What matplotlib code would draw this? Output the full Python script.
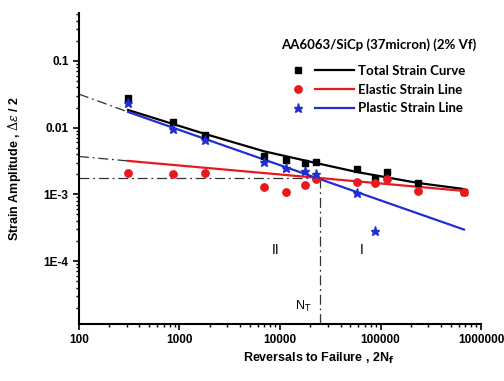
import matplotlib
matplotlib.use("Agg")
import matplotlib.pyplot as plt
from matplotlib.lines import Line2D
from matplotlib.legend_handler import HandlerTuple
from matplotlib.ticker import LogLocator, NullFormatter, FixedLocator, FixedFormatter

# measured points: reversals to failure vs strain amplitude
reversals = [308, 861, 1795, 6935, 11480, 17740, 22800, 58300, 88100, 116000, 236000, 677000]
total_strain = [0.0279, 0.0122, 0.0078, 0.00377, 0.00328, 0.00296, 0.00306,
                0.0024, 0.0017, 0.00217, 0.00148, 0.00109]
elastic_strain = [0.00209, 0.00202, 0.00209, 0.00129, 0.00109, 0.00138, 0.0017,
                  0.00153, 0.00148, 0.0017, 0.00112, 0.00109]
plastic_rev = [308, 861, 1795, 6935, 11480, 17740, 22800, 58300, 88100]
plastic_strain = [0.0234, 0.00957, 0.00655, 0.00306, 0.00249, 0.00224, 0.00202,
                  0.00105, 0.000282]

# fitted lines (end points) and their back extensions to 2Nf = 100
fit_rev = [308, 677000]
elastic_fit = [0.00317, 0.001125]
plastic_fit = [0.01718, 0.000296]
ext_rev = [100, 308]
elastic_ext = [0.00369, 0.00317]
plastic_ext = [0.0318, 0.01718]

# total strain curve
total_rev = [308, 1795, 6935, 22800, 58300, 236000, 677000]
total_fit = [0.0184, 0.00804, 0.00442, 0.00295, 0.00216, 0.00148, 0.00120]

# transition life
n_t = 25000
eps_t = 0.00176

x_ticks = [100, 1000, 10000, 100000, 1000000]
x_labels = ["100", "1000", "10000", "100000", "1000000"]
y_ticks = [1e-4, 1e-3, 1e-2, 1e-1]
y_labels = ["1E-4", "1E-3", "0.01", "0.1"]

red = "#e8191e"
blue = "#1f2fd2"

fig = plt.figure(figsize=(5.04, 3.81), dpi=100)
ax = fig.add_axes([0.1567, 0.1496, 0.7977, 0.8163])
ax.set_xscale("log")
ax.set_yscale("log")
ax.set_xlim(100, 1e6)
ax.set_ylim(1.136e-5, 0.524)

dashdot = (0, (8, 3, 1.5, 3))
ax.plot(ext_rev, elastic_ext, color="#333333", lw=0.9, ls=dashdot)
ax.plot(ext_rev, plastic_ext, color="#333333", lw=0.9, ls=dashdot)
ax.plot([100, n_t], [eps_t, eps_t], color="#333333", lw=0.9, ls=dashdot)
ax.plot([n_t, n_t], [eps_t, 1.136e-5], color="#333333", lw=0.9, ls=dashdot)

ax.plot(total_rev, total_fit, color="black", lw=1.6)
ax.plot(fit_rev, elastic_fit, color=red, lw=1.6)
ax.plot(fit_rev, plastic_fit, color=blue, lw=1.6)

ax.plot(reversals, total_strain, ls="none", marker="s", ms=4.3, color="black")
ax.plot(reversals, elastic_strain, ls="none", marker="o", ms=5.3, color=red)
ax.plot(plastic_rev, plastic_strain, ls="none", marker="*", ms=6.5, color=blue)

# axes styling
for side in ["top", "right"]:
    ax.spines[side].set_visible(False)
for side in ["left", "bottom"]:
    ax.spines[side].set_linewidth(1.5)

ax.xaxis.set_major_locator(FixedLocator(x_ticks))
ax.xaxis.set_major_formatter(FixedFormatter(x_labels))
ax.yaxis.set_major_locator(FixedLocator(y_ticks))
ax.yaxis.set_major_formatter(FixedFormatter(y_labels))
ax.xaxis.set_minor_locator(LogLocator(base=10, subs=range(2, 10), numticks=20))
ax.yaxis.set_minor_locator(LogLocator(base=10, subs=range(2, 10), numticks=20))
ax.xaxis.set_minor_formatter(NullFormatter())
ax.yaxis.set_minor_formatter(NullFormatter())
ax.tick_params(which="major", direction="out", length=4.5, width=1.2,
               labelsize=8.5, pad=3)
ax.tick_params(which="minor", direction="out", length=2.5, width=1.0)
for lab in ax.get_xticklabels() + ax.get_yticklabels():
    lab.set_fontweight("bold")
    lab.set_fontfamily("Liberation Sans")

ax.set_xlabel(r"Reversals to Failure , 2N$_\mathbf{f}$", fontsize=9,
              fontweight="bold", family="Liberation Sans", math_fontfamily="dejavusans")
ax.xaxis.set_label_coords(0.595, -0.085)
ax.set_ylabel(r"Strain Amplitude , $\Delta\varepsilon$ / 2", fontsize=9,
              fontweight="bold", family="Liberation Sans", math_fontfamily="dejavuserif")
ax.yaxis.set_label_coords(-0.14, 0.5)

# regime labels
ax.text(9100, 1.47e-4, "II", fontsize=10, ha="center", va="center", family="Liberation Sans")
ax.text(65500, 1.47e-4, "I", fontsize=10, ha="center", va="center", family="Liberation Sans")
ax.text(16900, 2.1e-5, r"N$_\mathrm{T}$", fontsize=9, ha="center", va="center",
        family="Liberation Sans", math_fontfamily="dejavusans")

ax.text(0.746, 0.897, "AA6063/SiCp (37micron) (2% Vf)", transform=ax.transAxes,
        fontsize=9.5, fontweight="bold", family="Lato", ha="center", va="center")

handles = [
    (Line2D([], [], ls="none", marker="s", ms=4.3, color="black"),
     Line2D([], [], color="black", lw=1.6)),
    (Line2D([], [], ls="none", marker="o", ms=5.3, color=red),
     Line2D([], [], color=red, lw=1.6)),
    (Line2D([], [], ls="none", marker="*", ms=6.5, color=blue),
     Line2D([], [], color=blue, lw=1.6)),
]
labels = ["Total Strain Curve", "Elastic Strain Line", "Plastic Strain Line"]
ax.legend(handles, labels, handler_map={tuple: HandlerTuple(ndivide=None, pad=-0.2)},
          loc="upper left", bbox_to_anchor=(0.4975, 0.833), borderaxespad=0,
          borderpad=0, frameon=False, handlelength=5.7, handletextpad=0.32,
          labelspacing=0.5, prop={"family": "Lato", "weight": "bold", "size": 9.5})

fig.savefig("out.png", dpi=100)
